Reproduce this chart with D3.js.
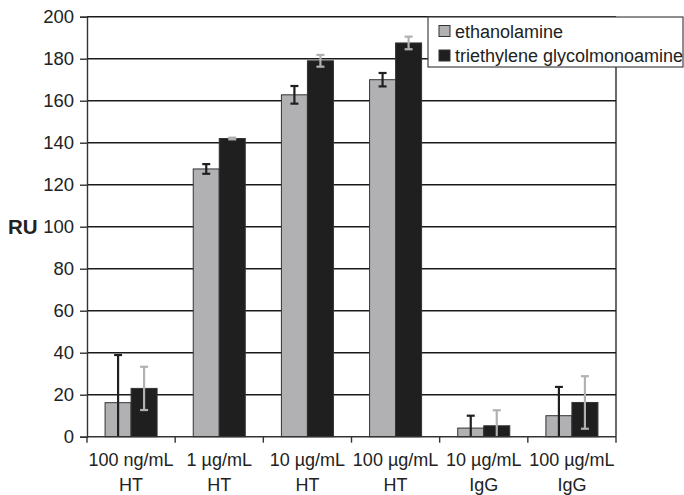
<!DOCTYPE html>
<html><head><meta charset="utf-8">
<script src="https://cdn.jsdelivr.net/npm/d3@7"></script>
<style>body{margin:0;background:#fff}svg{display:block}text{font-family:"Liberation Sans",Arial,sans-serif}</style>
</head><body><svg id="c" width="684" height="495"></svg>
<script>
const categories = [["100 ng/mL","HT"],["1 µg/mL","HT"],["10 µg/mL","HT"],["100 µg/mL","HT"],["10 µg/mL","IgG"],["100 µg/mL","IgG"]];
const seriesNames = ["ethanolamine","triethylene glycolmonoamine"];
const ethanolamine = [16.2, 127.5, 162.8, 170.0, 4.1, 10.0];
const ethanolamineErr = [22.7, 2.3, 4.2, 3.2, 5.9, 13.7];
const tgma = [23.0, 142.0, 179.0, 187.5, 5.2, 16.3];
const tgmaErr = [10.3, 0.4, 2.8, 3.0, 7.4, 12.5];
const yTicks = [0,20,40,60,80,100,120,140,160,180,200];

const svg = d3.select("#c");
const L=87, R=616, T=16.7, B=436.7;
const x = d3.scaleBand().domain(d3.range(categories.length)).range([L,R]).paddingInner(0.41).paddingOuter(0.205);
const xs = d3.scaleBand().domain([0,1]).range([0,x.bandwidth()]);
const y = d3.scaleLinear().domain([0,200]).range([B,T]);

svg.append("g").selectAll("line").data(yTicks.filter(d=>d>0)).join("line")
  .attr("x1",L).attr("x2",R).attr("y1",d=>y(d)).attr("y2",d=>y(d))
  .attr("stroke","#1a1a1a").attr("stroke-width",1.5);
svg.append("line").attr("x1",R).attr("x2",R).attr("y1",T).attr("y2",B).attr("stroke","#1a1a1a").attr("stroke-width",1.3);

const colors=["#b1b1b4","#1f1f1f"];
const errColors=["#1f1f1f","#b1b1b4"];
const data=[ethanolamine,tgma], errs=[ethanolamineErr,tgmaErr];
data.forEach((vals,s)=>{
  svg.append("g").selectAll("rect").data(vals).join("rect")
    .attr("x",(d,i)=>x(i)+xs(s)).attr("width",xs.bandwidth())
    .attr("y",d=>y(d)).attr("height",d=>B-y(d))
    .attr("fill",colors[s]).attr("stroke","#333").attr("stroke-width",1);
});
data.forEach((vals,s)=>{
  const g=svg.append("g").attr("stroke",errColors[s]).attr("stroke-width",2.2);
  vals.forEach((v,i)=>{
    const cx=x(i)+xs(s)+xs.bandwidth()/2;
    const hi=v+errs[s][i], lo=Math.max(0,v-errs[s][i]);
    g.append("line").attr("x1",cx).attr("x2",cx).attr("y1",y(hi)).attr("y2",y(lo));
    g.append("line").attr("x1",cx-4).attr("x2",cx+4).attr("y1",y(hi)).attr("y2",y(hi));
    if(v-errs[s][i]>0) g.append("line").attr("x1",cx-4).attr("x2",cx+4).attr("y1",y(lo)).attr("y2",y(lo));
  });
});

const ya=svg.append("g").attr("transform",`translate(${L},0)`).call(d3.axisLeft(y).tickValues(yTicks).tickSize(7).tickPadding(6));
ya.selectAll("path,line").attr("stroke","#333").attr("stroke-width",1.4);
ya.selectAll("text").attr("font-size",18.5).attr("fill","#222").style("font-family","Liberation Sans, Arial, sans-serif");
const xa=svg.append("g").attr("transform",`translate(0,${B})`);
xa.append("line").attr("x1",L).attr("x2",R).attr("stroke","#333").attr("stroke-width",1.4);
const bounds=d3.range(categories.length+1).map(i=>L+i*(R-L)/categories.length);
xa.selectAll("line.t").data(bounds).join("line").attr("class","t").attr("x1",d=>d).attr("x2",d=>d).attr("y1",0).attr("y2",6).attr("stroke","#333").attr("stroke-width",1.4);
const lab=xa.selectAll("text").data(categories).join("text")
  .attr("x",(d,i)=>x(i)+x.bandwidth()/2).attr("text-anchor","middle").attr("font-size",18).attr("fill","#222");
lab.append("tspan").attr("x",(d,i)=>x(i)+x.bandwidth()/2).attr("y",29.5).text(d=>d[0]);
lab.append("tspan").attr("x",(d,i)=>x(i)+x.bandwidth()/2).attr("y",54.5).text(d=>d[1]);

svg.append("text").attr("x",8).attr("y",y(100)+7).attr("font-size",20.5).attr("font-weight","bold").attr("fill","#222").text("RU");

const lg=svg.append("g");
lg.append("rect").attr("x",428).attr("y",17).attr("width",255).attr("height",50).attr("fill","#fff").attr("stroke","#444").attr("stroke-width",1.2);
seriesNames.forEach((n,i)=>{
  const cy=31+i*24.5;
  lg.append("rect").attr("x",439).attr("y",cy-5.5).attr("width",11).attr("height",11).attr("fill",colors[i]).attr("stroke","#333").attr("stroke-width",1);
  lg.append("text").attr("x",455).attr("y",cy+6.5).attr("font-size",18).attr("fill","#222").text(n);
});
</script></body></html>
